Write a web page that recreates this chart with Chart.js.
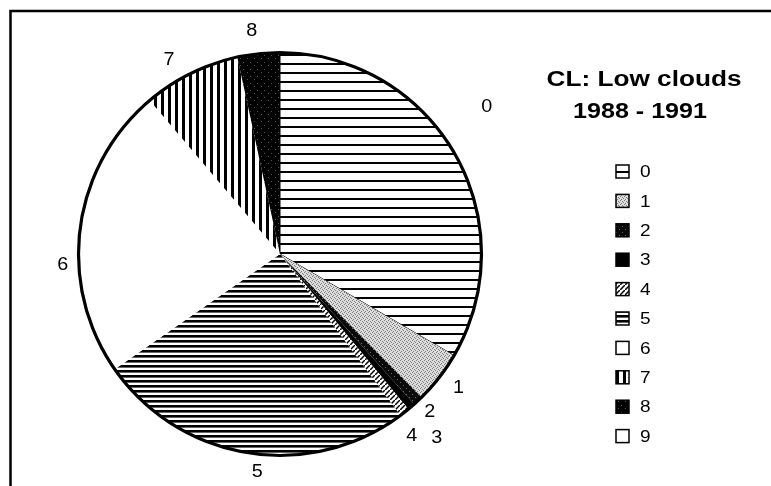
<!DOCTYPE html>
<html>
<head>
<meta charset="utf-8">
<script src="https://cdn.jsdelivr.net/npm/chart.js@4/dist/chart.umd.min.js"></script>
<style>
  html, body { margin: 0; padding: 0; background: #fff; }
  #wrap { width: 771px; height: 486px; position: relative; }
</style>
</head>
<body>
<div id="wrap"><canvas id="c" width="771" height="486"></canvas></div>
<script>
// ---- data ----
const categories = ['0', '1', '2', '3', '4', '5', '6', '7', '8', '9'];
const shares = [33.4, 4.2, 0.8, 0.6, 0.8, 25.5, 23.5, 7.8, 3.4, 0];
const titleLines = ['CL: Low clouds', '1988 - 1991'];

// ---- layout tweaks for slice labels (angle nudge in degrees, extra radius in px) ----
const labelAngleNudge = [-5.5, -0.8, -0.3, 0.2, 2.2, -3.2, -10.3, -3.5, -1.1, 0];
const labelRadiusExtra = [52, 22, 16, 40, 23, 18, 16, 22, 23, 0];

// ---- patterns ----
function makeTile(w, h, draw) {
  const c = document.createElement('canvas');
  c.width = w; c.height = h;
  const g = c.getContext('2d');
  draw(g, w, h);
  return document.createElement('canvas').getContext('2d').createPattern(c, 'repeat');
}
function dots(g, list, color) {
  g.fillStyle = color;
  list.forEach(p => g.fillRect(p[0], p[1], 1, 1));
}
const patterns = [
  // 0: sparse horizontal lines
  makeTile(8, 9, (g, w, h) => { g.fillStyle = '#fff'; g.fillRect(0, 0, w, h); g.fillStyle = '#000'; g.fillRect(0, 0, w, 2); }),
  // 1: light grey stipple
  makeTile(4, 4, (g, w, h) => { g.fillStyle = '#dcdcdc'; g.fillRect(0, 0, w, h); dots(g, [[0,0],[2,1],[1,3],[3,2]], '#808080'); }),
  // 2: dark stipple
  makeTile(6, 6, (g, w, h) => { g.fillStyle = '#0a0a0a'; g.fillRect(0, 0, w, h); dots(g, [[1,1],[4,4]], '#6a6a6a'); }),
  // 3: solid black
  '#000',
  // 4: diagonal hatch
  makeTile(5, 5, (g, w, h) => { g.fillStyle = '#fff'; g.fillRect(0, 0, w, h); g.strokeStyle = '#000'; g.lineWidth = 1.5; g.beginPath(); g.moveTo(-1, 6); g.lineTo(6, -1); g.stroke(); }),
  // 5: dense horizontal lines
  makeTile(8, 5, (g, w, h) => { g.fillStyle = '#fff'; g.fillRect(0, 0, w, h); g.fillStyle = '#000'; g.fillRect(0, 0, w, 2.6); }),
  // 6: white
  '#fff',
  // 7: vertical lines
  makeTile(7, 8, (g, w, h) => { g.fillStyle = '#fff'; g.fillRect(0, 0, w, h); g.fillStyle = '#000'; g.fillRect(0, 0, 3, h); }),
  // 8: black with sparse specks
  makeTile(7, 7, (g, w, h) => { g.fillStyle = '#000'; g.fillRect(0, 0, w, h); dots(g, [[2,2],[5,6]], '#555'); }),
  // 9: white
  '#fff'
];

function stretchedText(ctx, txt, x, y, font, sx, align) {
  ctx.save();
  ctx.font = font;
  ctx.textAlign = align || 'center';
  ctx.textBaseline = 'middle';
  ctx.translate(x, y);
  ctx.scale(sx, 1);
  ctx.fillStyle = '#000';
  ctx.fillText(txt, 0, 0);
  ctx.restore();
}

const decor = {
  id: 'decor',
  beforeDraw(chart) {
    const ctx = chart.ctx;
    ctx.save();
    ctx.fillStyle = '#fff';
    ctx.fillRect(0, 0, chart.width, chart.height);
    ctx.strokeStyle = '#000';
    ctx.lineWidth = 2.5;
    ctx.beginPath();
    ctx.moveTo(10.5, chart.height + 5);
    ctx.lineTo(10.5, 11);
    ctx.lineTo(chart.width + 5, 11);
    ctx.stroke();
    ctx.restore();
  },
  afterDatasetsDraw(chart) {
    const ctx = chart.ctx;
    const meta = chart.getDatasetMeta(0);
    const a0 = meta.data[0];
    ctx.save();
    ctx.strokeStyle = '#000';
    ctx.lineWidth = 3.2;
    ctx.beginPath();
    ctx.arc(a0.x, a0.y, a0.outerRadius, 0, Math.PI * 2);
    ctx.stroke();
    ctx.restore();
    meta.data.forEach((arc, i) => {
      if (!shares[i]) return;
      const mid = (arc.startAngle + arc.endAngle) / 2 + labelAngleNudge[i] * Math.PI / 180;
      const r = arc.outerRadius + labelRadiusExtra[i];
      stretchedText(ctx, categories[i], arc.x + Math.cos(mid) * r, arc.y + Math.sin(mid) * r,
        '18px "Liberation Sans", Arial, sans-serif', 1.1, 'center');
    });
  },
  afterDraw(chart) {
    const ctx = chart.ctx;
    stretchedText(ctx, titleLines[0], 644, 80, 'bold 22px "Liberation Sans", Arial, sans-serif', 1.19, 'center');
    stretchedText(ctx, titleLines[1], 640, 112, 'bold 22px "Liberation Sans", Arial, sans-serif', 1.14, 'center');
    categories.forEach((c, i) => {
      const cy = 171.5 + i * 29.4;
      ctx.save();
      ctx.fillStyle = patterns[i];
      ctx.fillRect(616, cy - 6.5, 13, 13);
      ctx.strokeStyle = '#000';
      ctx.lineWidth = 1.5;
      ctx.strokeRect(616, cy - 6.5, 13, 13);
      ctx.restore();
      stretchedText(ctx, c, 640, cy + 1, '17px "Liberation Sans", Arial, sans-serif', 1.12, 'left');
    });
  }
};

new Chart(document.getElementById('c'), {
  type: 'pie',
  data: {
    labels: categories,
    datasets: [{
      data: shares,
      backgroundColor: patterns,
      borderColor: '#000',
      borderWidth: [1, 0, 0, 0, 0, 0, 0, 0, 0, 0]
    }]
  },
  options: {
    responsive: false,
    devicePixelRatio: 1,
    animation: false,
    events: [],
    layout: { padding: { left: 78, top: 52, right: 289, bottom: 30 } },
    plugins: {
      legend: { display: false },
      title: { display: false },
      tooltip: { enabled: false }
    }
  },
  plugins: [decor]
});
</script>
</body>
</html>
